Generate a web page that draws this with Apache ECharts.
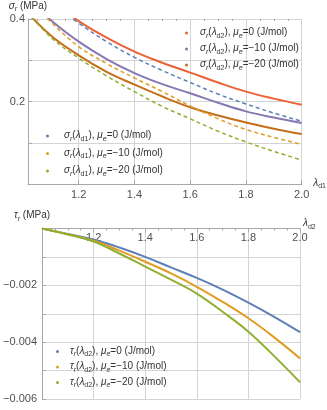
<!DOCTYPE html>
<html>
<head>
<meta charset="utf-8">
<title>sigma / tau</title>
<script src="https://cdn.jsdelivr.net/npm/echarts@6/dist/echarts.min.js"></script>
<style>
  html, body { margin: 0; padding: 0; background: #fff; }
  #chart { width: 327px; height: 410px; }
</style>
</head>
<body>
<div id="chart"></div>
<script>
// lambda grid shared by all curves
var lam = [1.0, 1.1, 1.2, 1.3, 1.4, 1.5, 1.6, 1.7, 1.8, 1.9, 2.0];

// sigma_r (MPa) vs lambda_d2 (solid)
var sigD2_0   = [0.500, 0.445, 0.395, 0.355, 0.321, 0.294, 0.270, 0.246, 0.224, 0.207, 0.192];
var sigD2_m10 = [0.457, 0.397, 0.345, 0.303, 0.269, 0.242, 0.220, 0.197, 0.176, 0.161, 0.148];
var sigD2_m20 = [0.427, 0.360, 0.312, 0.272, 0.241, 0.212, 0.186, 0.166, 0.149, 0.134, 0.121];
// sigma_r (MPa) vs lambda_d1 (dashed)
var sigD1_0   = [0.490, 0.440, 0.390, 0.345, 0.307, 0.275, 0.246, 0.218, 0.194, 0.172, 0.152];
var sigD1_m10 = [0.463, 0.393, 0.333, 0.292, 0.257, 0.224, 0.189, 0.158, 0.132, 0.113, 0.096];
var sigD1_m20 = [0.429, 0.356, 0.305, 0.262, 0.224, 0.188, 0.158, 0.128, 0.102, 0.079, 0.058];

// tau_r (MPa) vs lambda_d2
var tau_0   = [0, -0.00019, -0.00039, -0.00067, -0.00100, -0.00137, -0.00174, -0.00215, -0.00261, -0.00311, -0.00365];
var tau_m10 = [0, -0.00020, -0.00043, -0.00078, -0.00117, -0.00158, -0.00205, -0.00258, -0.00316, -0.00383, -0.00457];
var tau_m20 = [0, -0.00021, -0.00046, -0.00088, -0.00134, -0.00180, -0.00229, -0.00293, -0.00363, -0.00449, -0.00541];

var muVals = ['0', '−10', '−20'];
var topTicks = [1.2, 1.4, 1.6, 1.8, 2.0];
var topMinor = [1.05, 1.1, 1.15, 1.25, 1.3, 1.35, 1.45, 1.5, 1.55, 1.65, 1.7, 1.75, 1.85, 1.9, 1.95];

var C = {
    blue: '#5E81B5', orange: '#E19C24', green: '#8FB032',
    red: '#EB6235', purple: '#8778B3', brown: '#C56E1A'
};
var FONT = '"Liberation Sans", Arial, sans-serif';
var GRID = '#d4d4d4';
var AXIS = '#a8a8a8';
var TXT = '#505050';

function pairs(ys) {
    return lam.map(function (x, i) { return [x, ys[i]]; });
}

// legend names and their rich text
var richText = {};
function nm(sym, arg, mu) {
    var plain = sym + 'r(λ' + arg + '), μe=' + mu + ' (J/mol)';
    richText[plain] = '{i|' + sym + '}{s|r}{n|(}{i|λ}{u|' + arg + '}{n|), }{i|μ}{s|e}{n|=' + mu + ' (J/mol)}';
    return plain;
}

var rich = {
    n: { fontSize: 10, color: '#333', fontFamily: FONT, verticalAlign: 'bottom', padding: [0, 0, 2, 0] },
    i: { fontSize: 10, color: '#333', fontFamily: FONT, fontStyle: 'italic', verticalAlign: 'bottom', padding: [0, 0, 2, 0] },
    s: { fontSize: 7, color: '#333', fontFamily: FONT, fontStyle: 'italic', verticalAlign: 'bottom' },
    u: { fontSize: 7, color: '#333', fontFamily: FONT, verticalAlign: 'bottom' }
};

function line(name, data, color, dashed, xi, yi) {
    return {
        name: name, type: 'line', xAxisIndex: xi, yAxisIndex: yi,
        data: pairs(data), smooth: 0.4,
        showSymbol: false, clip: true, color: color,
        lineStyle: { color: color, width: dashed ? 1.5 : 2, type: dashed ? [4, 3] : 'solid' }
    };
}

var nD2 = muVals.map(function (m) { return nm('σ', 'd2', m); });
var nD1 = muVals.map(function (m) { return nm('σ', 'd1', m); });
var nT  = muVals.map(function (m) { return nm('τ', 'd2', m); });

function legend(names, left, top, gap, pad) {
    return {
        data: names.map(function (n) { return { name: n, icon: 'circle' }; }),
        orient: 'vertical', left: left, top: top, itemGap: gap,
        itemWidth: 3, itemHeight: 3,
        formatter: function (n) { return richText[n]; },
        textStyle: { rich: rich, lineHeight: 13, padding: [0, 0, 0, pad] },
        selectedMode: false
    };
}

var chart = echarts.init(document.getElementById('chart'), null, { renderer: 'canvas' });
var option = {
    animation: false,
    textStyle: { fontFamily: FONT },
    grid: [
        { left: 28, right: 24, top: 19, height: 165 },
        { left: 42, right: 27, top: 228.5, height: 170.5 }
    ],
    legend: [
        legend(nD2, 180, 21.5, 3, 7),
        legend(nD1, 41, 124.5, 4.5, 10),
        legend(nT, 51, 340, 2.5, 6)
    ],
    xAxis: [
        {
            gridIndex: 0, type: 'value', min: 1.018, max: 2.0,
            name: '{i|λ}{u|d1}', nameLocation: 'end', nameGap: 4,
            nameTextStyle: { rich: rich },
            axisLine: { lineStyle: { color: AXIS } },
            axisTick: { inside: true, length: 4, customValues: topTicks, lineStyle: { color: AXIS } },
            axisLabel: { customValues: topTicks, color: TXT, fontSize: 11, margin: 5,
                formatter: function (v) { return v.toFixed(1); } },
            splitLine: { show: true, lineStyle: { color: GRID } }
        },
        {
            gridIndex: 0, type: 'value', min: 1.018, max: 2.0,
            axisLine: { show: false },
            axisTick: { inside: true, length: 2, customValues: topMinor, lineStyle: { color: AXIS } },
            axisLabel: { show: false },
            splitLine: { show: false }
        },
        {
            gridIndex: 1, type: 'value', position: 'top', min: 1.0, max: 2.0, interval: 0.2,
            name: '{i|λ}{u|d2}', nameLocation: 'end', nameGap: 3,
            nameTextStyle: { rich: rich, padding: [0, 0, 8, 0] },
            axisLine: { lineStyle: { color: AXIS } },
            axisTick: { inside: true, length: 4, lineStyle: { color: AXIS } },
            minorTick: { show: true, splitNumber: 4, length: 2, lineStyle: { color: AXIS } },
            axisLabel: { inside: true, showMinLabel: false, color: TXT, fontSize: 11, margin: 4,
                formatter: function (v) { return v.toFixed(1); } },
            splitLine: { show: true, lineStyle: { color: GRID } }
        }
    ],
    yAxis: [
        {
            gridIndex: 0, type: 'value', min: 0, max: 0.4, interval: 0.1,
            name: '{i|σ}{s|r}{n| (MPa)}', nameLocation: 'end', nameGap: 6,
            nameTextStyle: { rich: rich },
            axisLine: { show: true, lineStyle: { color: AXIS } },
            axisTick: { show: true, inside: true, length: 4, lineStyle: { color: AXIS } },
            axisLabel: { color: TXT, fontSize: 11, margin: 3,
                formatter: function (v) {
                    return (Math.abs(v - 0.2) < 1e-9 || Math.abs(v - 0.4) < 1e-9) ? v.toFixed(1) : '';
                } },
            splitLine: { show: true, lineStyle: { color: GRID } }
        },
        {
            gridIndex: 1, type: 'value', min: -0.006, max: 0, interval: 0.001,
            name: '{i|τ}{s|r}{n| (MPa)}', nameLocation: 'end', nameGap: 6,
            nameTextStyle: { rich: rich, padding: [0, 20, 0, 0] },
            axisLine: { show: true, lineStyle: { color: AXIS } },
            axisTick: { show: true, inside: true, length: 4, lineStyle: { color: AXIS } },
            axisLabel: { color: TXT, fontSize: 11, margin: 5,
                formatter: function (v) {
                    var k = Math.round(v * 1000);
                    if (k === -2 || k === -4 || k === -6) return '−' + Math.abs(v).toFixed(3);
                    return '';
                } },
            splitLine: { show: true, lineStyle: { color: GRID } }
        }
    ],
    series: [
        line(nD2[0], sigD2_0, C.red, false, 0, 0),
        line(nD2[1], sigD2_m10, C.purple, false, 0, 0),
        line(nD2[2], sigD2_m20, C.brown, false, 0, 0),
        line(nD1[0], sigD1_0, C.blue, true, 0, 0),
        line(nD1[1], sigD1_m10, C.orange, true, 0, 0),
        line(nD1[2], sigD1_m20, C.green, true, 0, 0),
        line(nT[0], tau_0, C.blue, false, 2, 1),
        line(nT[1], tau_m10, C.orange, false, 2, 1),
        line(nT[2], tau_m20, C.green, false, 2, 1)
    ]
};
chart.setOption(option);
</script>
</body>
</html>
